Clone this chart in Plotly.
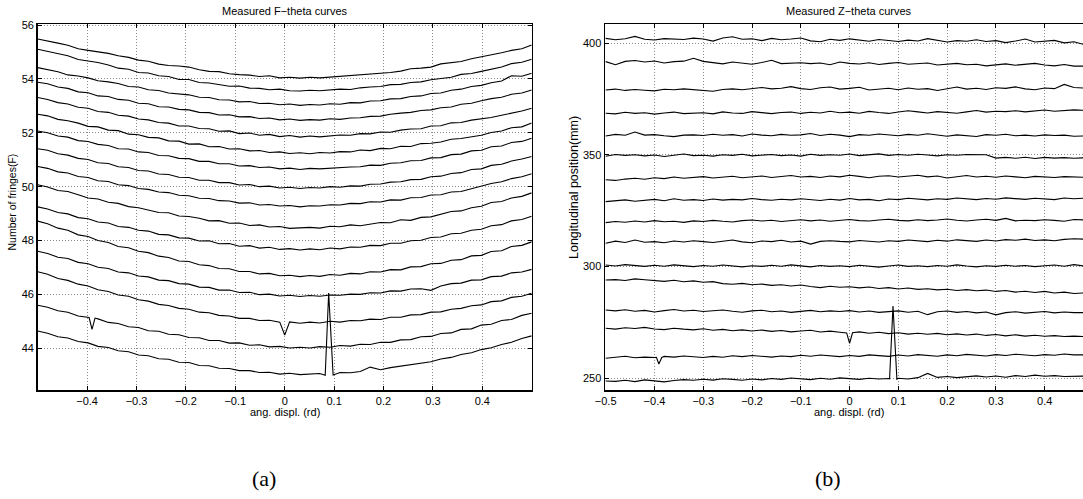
import plotly.graph_objects as go

# ---------------- data: left panel (F-theta) ----------------
X = [-0.500, -0.480, -0.459, -0.439, -0.418, -0.398, -0.378, -0.357, -0.337, -0.316,
     -0.296, -0.276, -0.255, -0.235, -0.214, -0.194, -0.173, -0.153, -0.133, -0.112,
     -0.092, -0.071, -0.051, -0.031, -0.010, 0.010, 0.031, 0.051, 0.071, 0.092,
     0.112, 0.133, 0.153, 0.173, 0.194, 0.214, 0.235, 0.255, 0.276, 0.296,
     0.316, 0.337, 0.357, 0.378, 0.398, 0.418, 0.439, 0.459, 0.480, 0.500]

F_DIP0_X = [0.0]
F_DIPA_X = [-0.396, -0.390, -0.384]
F_SPIKE_X = [0.082, 0.089, 0.098]

F1 = [55.48, 55.42, 55.33, 55.25, 55.12, 55.06, 55.01, 54.95, 54.86, 54.80,
      54.70, 54.66, 54.55, 54.50, 54.48, 54.44, 54.34, 54.28, 54.27, 54.19,
      54.16, 54.14, 54.09, 54.12, 54.04, 54.06, 54.03, 54.06, 54.04, 54.07,
      54.10, 54.11, 54.15, 54.17, 54.20, 54.24, 54.29, 54.38, 54.40, 54.44,
      54.56, 54.60, 54.65, 54.75, 54.82, 54.88, 54.97, 55.06, 55.12, 55.26]
F2 = [55.10, 55.03, 54.95, 54.86, 54.72, 54.67, 54.61, 54.52, 54.40, 54.36,
      54.24, 54.22, 54.12, 54.09, 53.98, 53.98, 53.87, 53.85, 53.79, 53.73,
      53.74, 53.66, 53.65, 53.60, 53.62, 53.56, 53.55, 53.58, 53.56, 53.60,
      53.62, 53.61, 53.67, 53.70, 53.72, 53.79, 53.80, 53.87, 53.89, 53.97,
      54.02, 54.06, 54.17, 54.20, 54.28, 54.37, 54.44, 54.57, 54.62, 54.73]
F3 = [54.42, 54.36, 54.27, 54.15, 54.11, 54.04, 53.93, 53.89, 53.83, 53.72,
      53.70, 53.60, 53.57, 53.48, 53.45, 53.41, 53.32, 53.31, 53.23, 53.22,
      53.15, 53.16, 53.09, 53.10, 53.04, 53.07, 53.02, 53.05, 53.03, 53.08,
      53.06, 53.12, 53.11, 53.18, 53.19, 53.26, 53.27, 53.35, 53.37, 53.46,
      53.48, 53.58, 53.62, 53.72, 53.76, 53.86, 53.92, 54.12, 54.10, 54.21]
F4 = [53.88, 53.82, 53.70, 53.65, 53.52, 53.49, 53.37, 53.35, 53.24, 53.21,
      53.10, 53.08, 52.97, 52.96, 52.87, 52.85, 52.76, 52.75, 52.66, 52.67,
      52.59, 52.60, 52.53, 52.55, 52.48, 52.51, 52.46, 52.49, 52.47, 52.52,
      52.50, 52.55, 52.56, 52.61, 52.62, 52.69, 52.73, 52.76, 52.83, 52.85,
      52.93, 52.96, 53.06, 53.10, 53.19, 53.27, 53.32, 53.43, 53.48, 53.59]
F5 = [53.31, 53.24, 53.12, 53.07, 52.95, 52.91, 52.79, 52.76, 52.65, 52.62,
      52.51, 52.48, 52.38, 52.36, 52.25, 52.25, 52.16, 52.15, 52.06, 52.07,
      51.97, 51.99, 51.91, 51.94, 51.86, 51.90, 51.84, 51.88, 51.85, 51.89,
      51.92, 51.91, 51.97, 51.96, 52.03, 52.02, 52.10, 52.14, 52.15, 52.25,
      52.26, 52.37, 52.38, 52.47, 52.51, 52.57, 52.65, 52.72, 52.81, 52.91]
F6 = [52.69, 52.63, 52.50, 52.45, 52.36, 52.24, 52.22, 52.10, 52.08, 51.95,
      51.93, 51.83, 51.81, 51.70, 51.69, 51.58, 51.59, 51.48, 51.49, 51.40,
      51.41, 51.33, 51.34, 51.27, 51.29, 51.23, 51.26, 51.22, 51.27, 51.25,
      51.30, 51.29, 51.36, 51.34, 51.42, 51.41, 51.50, 51.49, 51.60, 51.61,
      51.66, 51.76, 51.79, 51.86, 51.91, 52.01, 52.07, 52.19, 52.22, 52.36]
F7 = [52.07, 52.00, 51.88, 51.84, 51.71, 51.68, 51.57, 51.53, 51.41, 51.40,
      51.29, 51.27, 51.16, 51.15, 51.05, 51.04, 50.94, 50.94, 50.85, 50.85,
      50.77, 50.78, 50.71, 50.73, 50.66, 50.69, 50.64, 50.68, 50.66, 50.69,
      50.71, 50.73, 50.74, 50.80, 50.79, 50.87, 50.89, 50.96, 50.97, 51.07,
      51.08, 51.19, 51.21, 51.33, 51.35, 51.48, 51.51, 51.64, 51.68, 51.80]
F8 = [51.41, 51.35, 51.22, 51.17, 51.05, 51.01, 50.89, 50.86, 50.74, 50.71,
      50.60, 50.58, 50.47, 50.45, 50.35, 50.34, 50.24, 50.24, 50.15, 50.15,
      50.06, 50.08, 50.00, 50.02, 49.95, 49.98, 49.93, 49.97, 49.95, 50.00,
      49.98, 50.03, 50.02, 50.09, 50.10, 50.17, 50.18, 50.26, 50.27, 50.37,
      50.39, 50.49, 50.52, 50.64, 50.66, 50.79, 50.83, 50.95, 51.03, 51.12]
F9 = [50.75, 50.68, 50.55, 50.51, 50.38, 50.34, 50.22, 50.19, 50.07, 50.04,
      49.93, 49.90, 49.80, 49.78, 49.68, 49.66, 49.57, 49.56, 49.48, 49.47,
      49.39, 49.40, 49.32, 49.34, 49.28, 49.30, 49.25, 49.29, 49.28, 49.33,
      49.32, 49.38, 49.37, 49.44, 49.43, 49.51, 49.50, 49.59, 49.60, 49.69,
      49.70, 49.80, 49.82, 49.93, 50.01, 50.12, 50.18, 50.30, 50.37, 50.48]
F10 = [50.07, 49.99, 49.86, 49.82, 49.70, 49.58, 49.54, 49.42, 49.38, 49.26,
       49.22, 49.14, 49.04, 49.03, 48.91, 48.89, 48.83, 48.73, 48.74, 48.64,
       48.65, 48.56, 48.58, 48.50, 48.52, 48.45, 48.47, 48.49, 48.46, 48.53,
       48.51, 48.58, 48.55, 48.62, 48.67, 48.66, 48.77, 48.75, 48.86, 48.88,
       48.97, 49.08, 49.10, 49.22, 49.27, 49.41, 49.45, 49.58, 49.64, 49.77]
F11 = [49.25, 49.17, 49.04, 48.99, 48.85, 48.81, 48.69, 48.65, 48.52, 48.49,
       48.38, 48.35, 48.23, 48.21, 48.10, 48.09, 47.98, 47.99, 47.88, 47.89,
       47.79, 47.81, 47.72, 47.75, 47.67, 47.70, 47.65, 47.69, 47.66, 47.72,
       47.69, 47.76, 47.75, 47.82, 47.81, 47.90, 47.90, 47.99, 48.01, 48.11,
       48.13, 48.25, 48.27, 48.38, 48.42, 48.55, 48.59, 48.73, 48.78, 48.90]
F12 = [48.72, 48.62, 48.46, 48.38, 48.21, 48.15, 48.00, 47.93, 47.78, 47.73,
       47.60, 47.55, 47.42, 47.37, 47.24, 47.22, 47.10, 47.07, 46.96, 46.95,
       46.85, 46.85, 46.76, 46.78, 46.69, 46.71, 46.66, 46.70, 46.67, 46.74,
       46.71, 46.78, 46.76, 46.84, 46.83, 46.92, 46.91, 47.02, 47.03, 47.14,
       47.15, 47.27, 47.29, 47.43, 47.45, 47.59, 47.62, 47.78, 47.82, 47.95]
F13 = [47.60, 47.52, 47.38, 47.33, 47.19, 47.14, 47.01, 46.96, 46.83, 46.80,
       46.68, 46.65, 46.53, 46.51, 46.40, 46.38, 46.27, 46.26, 46.16, 46.16,
       46.07, 46.08, 45.99, 46.01, 45.94, 45.97, 45.92, 45.96, 45.93, 45.98,
       45.97, 46.01, 46.00, 46.06, 46.05, 46.13, 46.12, 46.20, 46.21, 46.15,
       46.31, 46.40, 46.42, 46.53, 46.54, 46.66, 46.68, 46.80, 46.83, 46.93]
# curve 14: one extra sample at x = 0 (the dip)
F14 = [46.84, 46.75, 46.59, 46.52, 46.38, 46.31, 46.17, 46.11, 45.98, 45.93,
       45.80, 45.75, 45.63, 45.59, 45.48, 45.45, 45.34, 45.32, 45.22, 45.20,
       45.11, 45.11, 45.03, 45.04, 44.97, 44.49, 44.98, 44.93, 44.97, 44.94,
       45.00, 44.97, 45.03, 45.02, 45.08, 45.07, 45.15, 45.15, 45.24, 45.25,
       45.34, 45.35, 45.45, 45.48, 45.58, 45.61, 45.73, 45.76, 45.89, 45.93,
       46.04]
# curve 15: dip near x = -0.39
F15 = [45.60, 45.52, 45.39, 45.34, 45.20, 45.14, 44.70, 45.12, 45.09, 44.96,
       44.92, 44.80, 44.77, 44.65, 44.63, 44.52, 44.50, 44.40, 44.39, 44.29,
       44.29, 44.19, 44.20, 44.11, 44.13, 44.05, 44.07, 44.01, 44.04, 44.01,
       44.06, 44.04, 44.10, 44.08, 44.15, 44.14, 44.22, 44.22, 44.31, 44.32,
       44.43, 44.44, 44.55, 44.57, 44.70, 44.72, 44.86, 44.89, 45.03, 45.07,
       45.22, 45.30]
# curve 16: spike near x = 0.09
F16 = [44.64, 44.56, 44.43, 44.38, 44.25, 44.20, 44.07, 44.03, 43.91, 43.87,
       43.75, 43.72, 43.61, 43.59, 43.48, 43.47, 43.36, 43.35, 43.26, 43.25,
       43.17, 43.17, 43.10, 43.11, 43.04, 43.07, 43.02, 43.03, 43.06, 43.00,
       46.05, 43.01, 43.10, 43.09, 43.14, 43.30, 43.20, 43.28, 43.34, 43.38,
       43.46, 43.50, 43.60, 43.66, 43.77, 43.83, 43.95, 44.02, 44.14, 44.22,
       44.36, 44.46]

# ---------------- data: right panel (Z-theta) ----------------
ZX = [-0.50, -0.48, -0.46, -0.44, -0.42, -0.40, -0.38, -0.36, -0.34, -0.32,
      -0.30, -0.28, -0.26, -0.24, -0.22, -0.20, -0.18, -0.16, -0.14, -0.12,
      -0.10, -0.08, -0.06, -0.04, -0.02, 0.00, 0.02, 0.04, 0.06, 0.08,
      0.10, 0.12, 0.14, 0.16, 0.18, 0.20, 0.22, 0.24, 0.26, 0.28,
      0.30, 0.32, 0.34, 0.36, 0.38, 0.40, 0.42, 0.44, 0.46, 0.48]

Z_DIP0_X = [-0.006, 0.000, 0.006]
Z_DIPA_X = [-0.396, -0.391, -0.385]
Z_SPIKE_X = [0.082, 0.089, 0.097]

Z1 = [402.2, 401.6, 402.0, 403.1, 401.8, 401.5, 402.1, 402.0, 401.7, 402.3,
      401.9, 401.0, 402.4, 402.9, 401.8, 402.0, 401.2, 402.2, 401.6, 401.9,
      402.4, 401.1, 400.7, 401.8, 401.3, 402.0, 401.5, 400.9, 401.7, 401.2,
      400.8, 401.4, 401.0, 402.1, 401.3, 400.6, 401.2, 400.9, 401.6, 400.8,
      401.2, 400.3, 401.0, 401.9, 400.6, 400.9, 401.3, 400.2, 400.7, 399.5]
Z2 = [391.8, 390.4, 391.9, 392.3, 391.6, 392.1, 391.2, 391.8, 392.0, 393.3,
      391.9, 391.5, 390.8, 391.6, 391.2, 390.6, 391.4, 392.4, 390.9, 391.1,
      391.3, 390.9, 391.2, 390.4, 391.6, 391.0, 390.7, 391.3, 390.5, 391.0,
      391.4, 390.6, 390.9, 391.2, 390.3, 390.8, 391.0, 390.4, 390.6, 389.9,
      390.5, 390.8, 390.2, 390.6, 391.0, 390.3, 389.9, 390.5, 389.8, 389.8]
Z3 = [379.1, 379.5, 378.9, 379.3, 379.0, 378.7, 379.4, 379.2, 379.6, 379.3,
      379.0, 378.5, 379.3, 379.6, 379.2, 379.8, 380.2, 379.6, 379.9, 380.6,
      379.7, 379.3, 380.1, 380.4, 379.5, 379.8, 380.3, 379.1, 379.6, 379.9,
      379.2, 380.0, 379.4, 379.7, 378.9, 379.8, 380.4, 379.5, 379.9, 379.3,
      380.1, 379.8, 380.5, 379.6, 379.2, 380.0, 379.7, 381.6, 380.2, 380.0]
Z4 = [368.7, 368.4, 369.1, 368.6, 368.9, 368.3, 368.8, 369.2, 368.5, 368.7,
      368.9, 368.4, 369.3, 368.8, 368.6, 369.4, 368.9, 368.5, 369.0, 369.2,
      368.6, 369.1, 368.8, 369.6, 368.9, 369.2, 368.7, 369.5, 369.0, 368.6,
      369.2, 369.8, 369.3, 368.8, 369.4, 369.1, 368.7, 369.3, 369.9, 369.2,
      369.6, 369.4, 369.8, 369.3, 369.7, 370.1, 369.6, 369.9, 370.2, 370.0]
Z5 = [358.5, 359.2, 358.8, 360.3, 358.9, 359.1, 358.6, 358.2, 358.9, 359.0,
      358.7, 359.3, 358.8, 359.1, 358.5, 359.4, 358.9, 358.6, 359.2, 358.8,
      359.0, 359.6, 358.7, 359.3, 358.9, 358.2, 359.1, 358.8, 359.4, 358.9,
      358.6, 359.2, 358.8, 359.5, 358.9, 358.4, 359.0, 358.7, 358.3, 359.1,
      358.8, 359.3, 358.6, 358.9, 358.5, 359.0, 358.7, 358.9, 358.4, 358.5]
Z6 = [349.4, 350.2, 349.8, 350.1, 349.6, 350.0, 349.3, 349.8, 350.4, 349.7,
      349.9, 349.5, 350.1, 349.8, 350.3, 349.6, 349.9, 350.2, 349.7, 350.0,
      349.5, 350.3, 349.8, 350.1, 349.9, 350.4, 349.7, 350.0, 350.5, 349.8,
      350.2, 349.9, 350.3, 350.0, 349.6, 350.1, 349.9, 350.2, 350.0, 350.1,
      348.6, 348.9, 348.5, 349.0, 348.4, 348.9, 348.6, 348.8, 348.5, 348.7]
Z7 = [338.9, 338.6, 339.2, 339.6, 339.1, 339.8, 339.4, 340.1, 339.6, 339.9,
      340.3, 339.7, 340.0, 340.5, 339.8, 340.2, 340.6, 339.9, 340.3, 340.8,
      340.1, 340.4, 339.9, 340.6, 340.2, 340.9, 340.4, 339.8, 340.5, 340.7,
      340.1, 340.4, 340.9, 340.2, 340.6, 339.7, 340.3, 340.8, 340.1, 340.5,
      340.0, 340.6, 340.2, 339.8, 340.4, 340.1, 339.9, 340.3, 340.0, 340.0]
Z8 = [329.1, 329.5, 329.9, 329.3, 329.8, 330.1, 329.5, 330.4, 329.7, 330.0,
      329.6, 330.3, 329.8, 330.1, 329.9, 330.5, 330.0, 329.7, 330.2, 329.9,
      330.4, 330.0, 329.6, 330.2, 329.8, 330.5, 329.9, 330.1, 329.5, 330.3,
      330.0, 330.6, 330.2, 329.9, 330.4, 330.1, 330.7, 330.3, 330.0, 330.5,
      330.2, 330.8, 330.4, 330.1, 330.6, 330.3, 330.0, 330.7, 330.4, 330.6]
Z9 = [319.7, 320.2, 319.9, 320.4, 320.0, 320.6, 320.1, 320.3, 319.8, 320.5,
      320.2, 320.7, 320.3, 320.0, 320.6, 320.9, 320.4, 320.8, 320.2, 320.6,
      321.0, 320.5, 320.9, 320.3, 320.8, 321.1, 320.6, 320.4, 320.9, 321.2,
      320.7, 320.5, 321.0, 320.6, 320.9, 321.3, 320.8, 320.4, 320.9, 321.2,
      320.7, 321.6, 320.5, 320.8, 320.6, 321.0, 320.7, 320.3, 321.1, 320.9]
Z10 = [310.5, 311.4, 310.8, 311.9, 310.9, 311.2, 310.7, 311.5, 311.0, 311.6,
       311.2, 310.8, 311.4, 311.9, 311.1, 310.7, 311.5, 311.2, 311.8, 311.0,
       311.4, 310.1, 311.3, 311.6, 311.3, 311.1, 311.7, 311.4, 311.0, 311.6,
       311.3, 311.9, 311.5, 311.2, 311.8, 311.4, 312.0, 311.6, 311.3, 311.9,
       311.5, 312.1, 311.8, 312.3, 311.7, 312.0, 311.6, 312.2, 312.5, 312.3]
Z11 = [300.7, 300.3, 300.9, 300.5, 300.1, 300.6, 300.2, 300.8, 300.4, 300.0,
       300.5, 300.2, 300.7, 300.3, 299.9, 300.4, 300.1, 300.6, 300.2, 300.8,
       300.3, 299.9, 300.5, 300.1, 300.4, 300.0, 300.6, 300.2, 299.8, 300.3,
       300.7, 300.1, 300.4, 300.0, 300.5, 300.2, 300.8, 300.3, 299.9, 300.4,
       300.1, 300.6, 300.2, 300.5, 300.0, 300.4, 300.7, 300.2, 300.9, 300.3]
Z12 = [294.0, 294.2, 293.8, 294.5, 294.1, 293.9, 293.4, 293.9, 293.2, 293.6,
       293.0, 293.3, 292.4, 292.1, 292.5, 291.9, 292.2, 291.6, 291.9, 291.3,
       291.8, 291.1, 290.6, 291.2, 290.8, 291.0, 290.5, 290.9, 290.2, 290.6,
       290.0, 290.4, 289.8, 290.1, 289.6, 289.9, 289.3, 289.7, 289.2, 289.5,
       288.9, 289.3, 288.6, 289.0, 288.4, 288.9, 288.2, 288.6, 288.0, 288.2]
Z13 = [280.6, 280.2, 280.7, 280.0, 280.4, 279.7, 280.3, 280.8, 280.1, 280.5,
       279.9, 280.3, 280.6, 280.0, 279.6, 280.2, 280.5, 279.8, 280.1, 279.5,
       280.0, 280.4, 279.8, 280.2, 279.9, 280.3, 279.7, 280.1, 279.5, 279.9,
       280.2, 279.6, 280.0, 278.5, 279.8, 280.1, 279.5, 279.9, 279.3, 279.7,
       278.4, 279.4, 279.8, 279.2, 279.6, 279.9, 279.3, 279.7, 279.4, 279.4]
# curve 14: dip at x = 0
Z14 = [272.4, 272.0, 272.6, 272.3, 272.8, 272.1, 271.8, 272.4, 272.0, 271.7,
       272.2, 271.5, 271.9, 271.3, 271.7, 271.2, 271.6, 271.0, 271.4, 270.8,
       271.2, 271.5, 270.7, 271.1, 270.6, 270.3, 265.7, 270.4, 270.8, 270.2,
       270.6, 270.0, 270.4, 269.8, 270.2, 269.7, 270.1, 269.5, 269.9, 269.4,
       269.8, 269.2, 269.6, 269.0, 269.5, 268.9, 269.3, 268.8, 269.1, 268.7,
       268.9, 268.7]
# curve 15: dip near x = -0.39
Z15 = [259.0, 259.3, 259.9, 259.2, 259.5, 259.3, 259.4, 256.4, 259.3, 259.8,
       259.5, 260.0, 259.6, 259.3, 259.8, 259.4, 260.1, 259.7, 260.2, 259.8,
       259.5, 260.0, 259.7, 260.3, 259.9, 260.4, 260.0, 259.7, 260.2, 259.8,
       260.5, 260.1, 259.8, 260.4, 260.0, 260.6, 260.2, 259.9, 260.5, 260.1,
       260.7, 260.3, 260.0, 260.6, 260.2, 260.8, 260.4, 260.1, 260.6, 260.3,
       260.9, 260.5, 260.5]
# curve 16: spike near x = 0.09
Z16 = [248.8, 248.6, 249.1, 248.5, 249.3, 248.7, 248.4, 249.0, 249.4, 249.1,
       249.6, 249.2, 249.8, 249.5, 249.1, 249.7, 249.3, 249.9, 249.5, 250.1,
       249.7, 249.4, 250.0, 249.6, 250.2, 249.8, 249.5, 250.0, 249.7, 249.9,
       249.8, 282.4, 249.6, 250.0, 249.7, 250.3, 252.2, 250.4, 250.8, 250.3,
       250.7, 251.1, 250.6, 251.0, 250.5, 251.2, 250.8, 251.4, 250.9, 251.2,
       250.8, 251.0, 251.0]

F_TICKS = [44, 46, 48, 50, 52, 54, 56]
Z_TICKS = [250, 300, 350, 400]
FX_TICKS = [-0.4, -0.3, -0.2, -0.1, 0, 0.1, 0.2, 0.3, 0.4]
ZX_TICKS = [-0.5, -0.4, -0.3, -0.2, -0.1, 0, 0.1, 0.2, 0.3, 0.4]

# x lists for the curves that carry extra samples
F14_X = X[:25] + F_DIP0_X + X[25:]
F15_X = X[:5] + F_DIPA_X + X[6:]
F16_X = X[:29] + F_SPIKE_X + X[30:]
Z14_X = ZX[:25] + Z_DIP0_X + ZX[26:]
Z15_X = ZX[:6] + Z_DIPA_X + ZX[6:]
Z16_X = ZX[:30] + Z_SPIKE_X + ZX[30:]

left = [(X, F1), (X, F2), (X, F3), (X, F4), (X, F5), (X, F6), (X, F7), (X, F8),
        (X, F9), (X, F10), (X, F11), (X, F12), (X, F13), (F14_X, F14),
        (F15_X, F15), (F16_X, F16)]
right = [(ZX, Z1), (ZX, Z2), (ZX, Z3), (ZX, Z4), (ZX, Z5), (ZX, Z6), (ZX, Z7),
         (ZX, Z8), (ZX, Z9), (ZX, Z10), (ZX, Z11), (ZX, Z12), (ZX, Z13),
         (Z14_X, Z14), (Z15_X, Z15), (Z16_X, Z16)]
for i, (xs, ys) in enumerate(left + right):
    assert len(xs) == len(ys), (i, len(xs), len(ys))

W, H = 1083, 499
FONT = "Liberation Sans, Arial, Helvetica, sans-serif"
LINE = dict(color="black", width=1.1)

fig = go.Figure()
for xs, ys in left:
    fig.add_trace(go.Scatter(x=xs, y=ys, mode="lines", line=LINE,
                             xaxis="x", yaxis="y", showlegend=False, hoverinfo="skip"))
for xs, ys in right:
    fig.add_trace(go.Scatter(x=xs, y=ys, mode="lines", line=LINE,
                             xaxis="x2", yaxis="y2", showlegend=False, hoverinfo="skip"))

def px_x(p):
    return p / W

def px_y(p):
    return (H - p) / H

ydom = [px_y(390), px_y(24)]
common = dict(showgrid=True, griddash="1px,2px", gridcolor="#8a8a8a", gridwidth=1,
              ticks="inside", ticklen=4, tickwidth=1, tickcolor="black",
              showline=True, linecolor="black", linewidth=1.5, automargin=False,
              zeroline=False, tickfont=dict(family=FONT, size=11, color="black"))

fig.update_layout(
    template="none",
    width=W, height=H,
    margin=dict(l=0, r=0, t=0, b=0, pad=0, autoexpand=False),
    paper_bgcolor="white", plot_bgcolor="white",
    xaxis=dict(domain=[px_x(37.7), px_x(531.7)], range=[-0.5, 0.5],
               tickvals=FX_TICKS, mirror="ticks", anchor="y", **common),
    yaxis=dict(domain=ydom, range=[42.45, 56.04], tickvals=F_TICKS,
               mirror="ticks", anchor="x", **common),
    xaxis2=dict(domain=[px_x(605), 1.0], range=[-0.5014, 0.4785],
                tickvals=ZX_TICKS, mirror="ticks", anchor="y2", **common),
    yaxis2=dict(domain=ydom, range=[244.76, 408.64], tickvals=Z_TICKS,
                mirror=False, anchor="x2", **common),
)

def note(text, x, y, size=11, angle=0, family=FONT):
    fig.add_annotation(text=text, x=px_x(x), y=px_y(y), xref="paper", yref="paper",
                       showarrow=False, textangle=angle, xanchor="center",
                       yanchor="middle", font=dict(family=family, size=size, color="black"))

note("Measured F\u2212theta curves", 284.7, 11.5)
note("Measured Z\u2212theta curves", 849, 11.5)
note("ang. displ. (rd)", 284.7, 412)
note("ang. displ. (rd)", 849, 412)
note("Number of fringes(F)", 11.5, 202, size=10.5, angle=-90)
note("Longitudinal position(mm)", 574, 188, size=12.5, angle=-90)
note("(a)", 264, 478, size=22, family="Liberation Serif, Times New Roman, serif")
note("(b)", 828, 478, size=22, family="Liberation Serif, Times New Roman, serif")

fig.write_html(
    "out.html",
    config={"displayModeBar": False, "staticPlot": True},
    post_script="document.body.style.margin='0';document.body.style.padding='0';"
                "document.documentElement.style.margin='0';"
                "document.body.style.overflow='hidden';",
)
